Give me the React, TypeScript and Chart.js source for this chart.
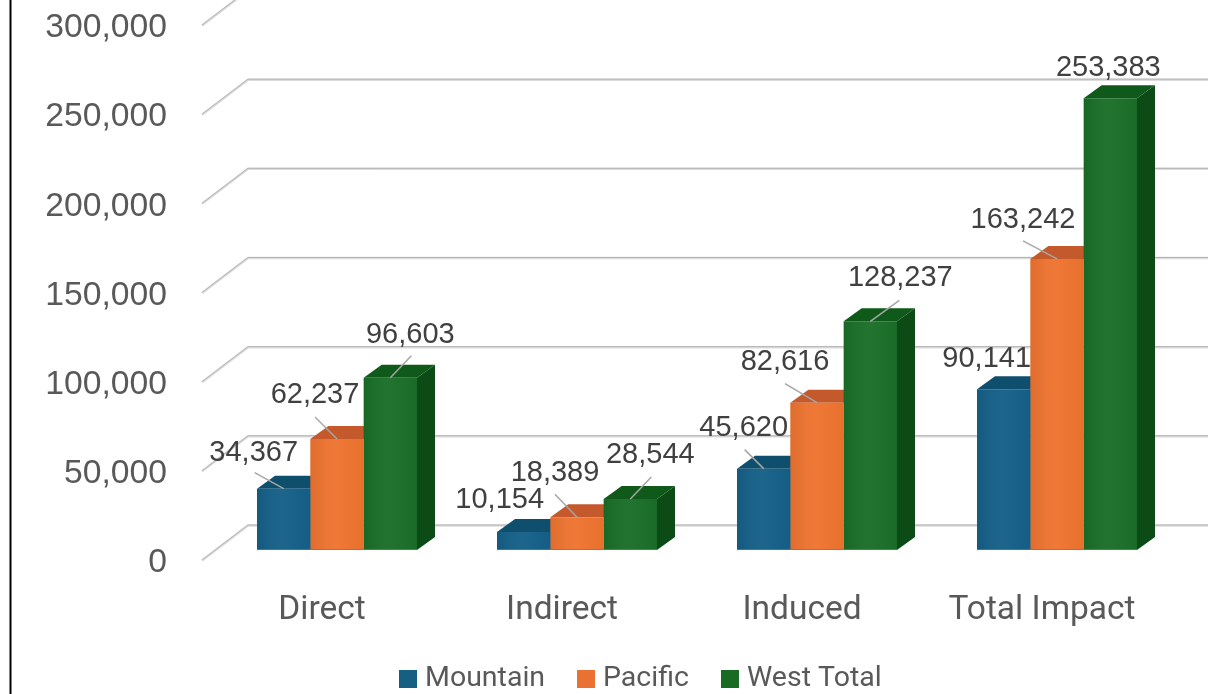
import React, { useEffect, useRef } from "react";
import { Chart, registerables } from "chart.js";

Chart.register(...registerables);

const categories = ["Direct", "Indirect", "Induced", "Total Impact"];
const mountain = [34367, 10154, 45620, 90141];
const pacific = [62237, 18389, 82616, 163242];
const westTotal = [96603, 28544, 128237, 253383];

const COLORS = ["#156088", "#EF7430", "#1A6F28"];
const LEGEND_COLORS = ["#156082", "#E97132", "#196B24"];
const TOP_COLORS = ["#0F4F6E", "#C45A2C", "#0F5A1A"];
const SIDE_COLORS = ["#0E4560", "#B3501F", "#0C4A16"];
const SHIFT_X = 15;
const SHIFT_Y = -13;
const GRID_SHIFT_Y = -3;
const DEPTH_X = 18;
const DEPTH_Y = 13;
const BACK_DX = 46;
const BACK_DY = 35;
const TEXT = "#595959";
const LABEL_TEXT = "#404040";

// label centre offset and leader start offset, relative to bar top-centre
const LABEL_LAYOUT = [
  [[-30, -36, -29, -16], [-24, -32, 0, 0], [-20, -41, -19, -19], [-17, -30, 0, 0]],
  [[-22, -44, -22, -22], [-22, -44, -22, -23], [-32, -41, -32, -19], [-34, -39, -34, -18]],
  [[20, -43, 21, -22], [20, -44, 21, -22], [30, -43, 29, -21], [-2, -30, 0, 0]],
];

const plugin3d = {
  id: "plugin3d",
  beforeDraw(chart: any) {
    const { ctx, scales } = chart;
    ctx.save();
    ctx.strokeStyle = "#000";
    ctx.lineWidth = 2;
    ctx.beginPath();
    ctx.moveTo(10.5, 0);
    ctx.lineTo(10.5, chart.height);
    ctx.stroke();
    const y = scales.y;
    const left = chart.chartArea.left;
    const right = chart.chartArea.right;
    y.ticks.forEach((t: any) => {
      const py = y.getPixelForValue(t.value) + GRID_SHIFT_Y;
      ctx.lineJoin = "round";
      ctx.strokeStyle = "#dcdcdc";
      ctx.lineWidth = 2.5;
      ctx.beginPath();
      ctx.moveTo(left, py + 0.5);
      ctx.lineTo(left + BACK_DX, py - BACK_DY + 0.5);
      ctx.lineTo(right + BACK_DX, py - BACK_DY + 0.5);
      ctx.stroke();
      ctx.strokeStyle = "#b4b4b4";
      ctx.lineWidth = 1;
      ctx.beginPath();
      ctx.moveTo(left, py);
      ctx.lineTo(left + BACK_DX, py - BACK_DY);
      ctx.lineTo(right + BACK_DX, py - BACK_DY);
      ctx.stroke();
    });
    ctx.restore();
  },
  beforeDatasetsDraw(chart: any) {
    const { ctx } = chart;
    ctx.save();
    ctx.translate(SHIFT_X, SHIFT_Y);
    // side and top faces first, left to right; the front faces cover what they must
    chart.data.datasets.forEach((_: any, i: number) => {
      chart.getDatasetMeta(i).data.forEach((el: any) => {
        const l = el.x - el.width / 2;
        const r = el.x + el.width / 2;
        ctx.fillStyle = TOP_COLORS[i];
        ctx.beginPath();
        ctx.moveTo(l, el.y);
        ctx.lineTo(l + DEPTH_X, el.y - DEPTH_Y);
        ctx.lineTo(r + DEPTH_X, el.y - DEPTH_Y);
        ctx.lineTo(r, el.y);
        ctx.closePath();
        ctx.fill();
        ctx.fillStyle = SIDE_COLORS[i];
        ctx.beginPath();
        ctx.moveTo(r, el.y);
        ctx.lineTo(r + DEPTH_X, el.y - DEPTH_Y);
        ctx.lineTo(r + DEPTH_X, el.base - DEPTH_Y);
        ctx.lineTo(r, el.base);
        ctx.closePath();
        ctx.fill();
      });
    });
  },
  afterDatasetsDraw(chart: any) {
    const { ctx } = chart;
    // soft shading of the front faces and their grey foot
    chart.data.datasets.forEach((ds: any, d: number) => {
      chart.getDatasetMeta(d).data.forEach((el: any) => {
        const l = el.x - el.width / 2;
        const g = ctx.createLinearGradient(l, 0, l + el.width, 0);
        g.addColorStop(0, "rgba(0,0,0,0.07)");
        g.addColorStop(0.5, "rgba(255,255,255,0.03)");
        g.addColorStop(1, "rgba(0,0,0,0.03)");
        ctx.fillStyle = g;
        ctx.fillRect(l, el.y, el.width, el.base - el.y);
        ctx.fillStyle = "rgba(120,120,120,0.7)";
        ctx.fillRect(l, el.base - 1, el.width, 1);
      });
    });
    chart.data.datasets.forEach((ds: any, d: number) => {
      const meta = chart.getDatasetMeta(d);
      meta.data.forEach((el: any, c: number) => {
        const [, , lx, ly] = LABEL_LAYOUT[d][c];
        if (lx !== 0 || ly !== 0) {
          ctx.strokeStyle = "#a6a6a6";
          ctx.lineWidth = 1.5;
          ctx.beginPath();
          ctx.moveTo(el.x + lx, el.y + ly);
          ctx.lineTo(el.x, el.y);
          ctx.stroke();
        }
      });
    });
    chart.data.datasets.forEach((ds: any, d: number) => {
      const meta = chart.getDatasetMeta(d);
      meta.data.forEach((el: any, c: number) => {
        const [dx, dy] = LABEL_LAYOUT[d][c];
        ctx.font = '29px "Liberation Sans"';
        ctx.textAlign = "center";
        ctx.textBaseline = "middle";
        const text = Number(ds.data[c]).toLocaleString("en-US");
        ctx.fillStyle = LABEL_TEXT;
        ctx.fillText(text, el.x + dx, el.y + dy);
      });
    });
    ctx.restore();
    const items = [
      { sq: 399, tx: 425 },
      { sq: 577, tx: 603 },
      { sq: 721, tx: 747 },
    ];
    ctx.save();
    ctx.font = '28.5px "Roboto"';
    ctx.textAlign = "left";
    ctx.textBaseline = "middle";
    chart.data.datasets.forEach((ds: any, d: number) => {
      ctx.fillStyle = LEGEND_COLORS[d];
      ctx.fillRect(items[d].sq, 670, 18, 18);
      ctx.fillStyle = TEXT;
      ctx.fillText(ds.label, items[d].tx, 679);
    });
    ctx.restore();
  },
};

export default function App() {
  const ref = useRef<HTMLCanvasElement>(null);
  useEffect(() => {
    const makeDs = (label: string, data: number[], i: number) => ({
      label,
      data,
      backgroundColor: COLORS[i],
      clip: false as any,
      barPercentage: 1,
      categoryPercentage: 160 / 240,
    });
    const chart = new Chart(ref.current as HTMLCanvasElement, {
      type: "bar",
      data: {
        labels: categories,
        datasets: [
          makeDs("Mountain", mountain, 0),
          makeDs("Pacific", pacific, 1),
          makeDs("West Total", westTotal, 2),
        ],
      },
      plugins: [plugin3d],
      options: {
        animation: false,
        responsive: false,
        layout: { autoPadding: false, padding: { top: 28, right: 49, bottom: 0, left: 0 } },
        plugins: { legend: { display: false }, tooltip: { enabled: false } },
        scales: {
          x: {
            grid: { display: false, drawTicks: false },
            border: { display: false },
            afterFit: (s: any) => {
              s.height = 131;
              s.paddingLeft = 0;
              s.paddingRight = 0;
            },
            ticks: {
              color: TEXT,
              padding: 28,
              maxRotation: 0,
              font: { family: "Roboto", size: 33.5 },
            },
          },
          y: {
            min: 0,
            max: 300000,
            afterFit: (s: any) => {
              s.width = 202;
              s.paddingTop = 0;
              s.paddingBottom = 0;
            },
            grid: { display: false, drawTicks: false },
            border: { display: false },
            ticks: {
              stepSize: 50000,
              color: TEXT,
              padding: 35,
              font: { family: "Liberation Sans", size: 33.7 },
              callback: (v: any) => Number(v).toLocaleString("en-US"),
            },
          },
        },
      },
    } as any);
    return () => chart.destroy();
  }, []);
  return (
    <div style={{ position: "fixed", left: 0, top: 0, width: 1211, height: 694, background: "#fff" }}>
      <canvas ref={ref} width={1211} height={694} style={{ display: "block" }} />
    </div>
  );
}
